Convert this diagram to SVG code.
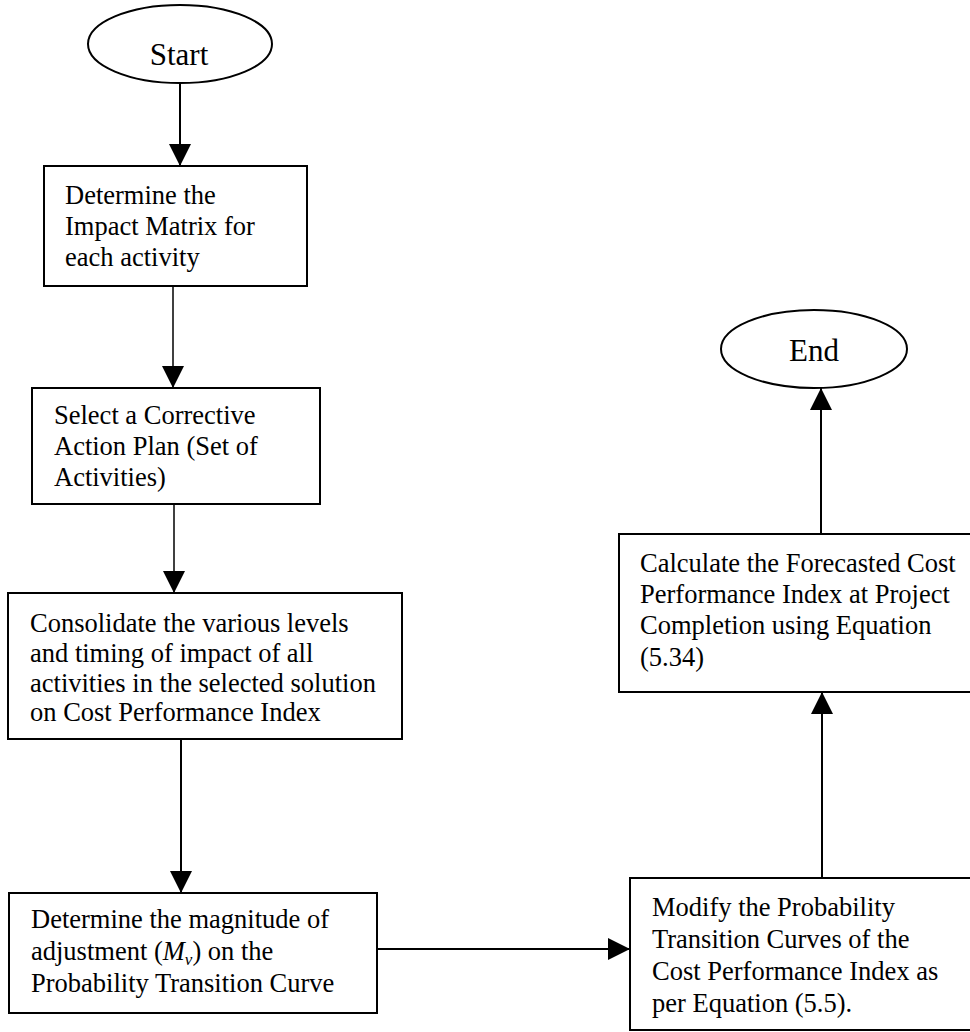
<svg xmlns="http://www.w3.org/2000/svg" width="970" height="1032" viewBox="0 0 970 1032">
  <style>
    .shape { fill: #ffffff; stroke: #000000; stroke-width: 2; }
    .label { font-family: "Liberation Serif", "Times New Roman", serif; font-size: 26.5px; fill: #000000; }
    .terminal { font-size: 31px; text-anchor: middle; }
    .link { fill: none; stroke: #000000; stroke-width: 2; }
    .thin { stroke-width: 1.5; }
  </style>
  <defs>
    <marker id="arrow" markerUnits="userSpaceOnUse" markerWidth="22" markerHeight="22" viewBox="0 0 20 20" refX="20" refY="10" orient="auto">
      <path d="M0,0 L20,10 L0,20 Z" fill="#000000"/>
    </marker>
  </defs>

  <rect width="970" height="1032" fill="#ffffff"/>

  <!-- connectors -->
  <g id="connectors">
    <line class="link" x1="180" y1="83" x2="180" y2="166" marker-end="url(#arrow)"/>
    <line class="link thin" x1="173" y1="286" x2="173" y2="388" marker-end="url(#arrow)"/>
    <line class="link thin" x1="174" y1="504" x2="174" y2="593" marker-end="url(#arrow)"/>
    <line class="link" x1="181" y1="739" x2="181" y2="893" marker-end="url(#arrow)"/>
    <line class="link" x1="377" y1="949" x2="630" y2="949" marker-end="url(#arrow)"/>
    <line class="link" x1="822" y1="878" x2="822" y2="692" marker-end="url(#arrow)"/>
    <line class="link" x1="821" y1="534" x2="821" y2="388" marker-end="url(#arrow)"/>
  </g>

  <!-- Start -->
  <g id="start">
    <ellipse class="shape" cx="180" cy="44" rx="92" ry="39"/>
    <text class="label terminal" x="179" y="65">Start</text>
  </g>

  <!-- Impact matrix -->
  <g id="impact-matrix">
    <rect class="shape" x="44" y="166" width="263" height="120"/>
    <text class="label" x="65" y="204">Determine the</text>
    <text class="label" x="65" y="235">Impact Matrix for</text>
    <text class="label" x="65" y="266">each activity</text>
  </g>

  <!-- Corrective action plan -->
  <g id="action-plan">
    <rect class="shape" x="32" y="388" width="288" height="116"/>
    <text class="label" x="54" y="424">Select a Corrective</text>
    <text class="label" x="54" y="455">Action Plan (Set of</text>
    <text class="label" x="54" y="486">Activities)</text>
  </g>

  <!-- Consolidate impacts -->
  <g id="consolidate">
    <rect class="shape" x="8" y="593" width="394" height="146"/>
    <text class="label" x="30" y="632">Consolidate the various levels</text>
    <text class="label" x="30" y="662">and timing of impact of all</text>
    <text class="label" x="30" y="692">activities in the selected solution</text>
    <text class="label" x="30" y="721">on Cost Performance Index</text>
  </g>

  <!-- Magnitude of adjustment -->
  <g id="magnitude">
    <rect class="shape" x="9" y="893" width="368" height="120"/>
    <text class="label" x="31" y="928">Determine the magnitude of</text>
    <text class="label" x="31" y="960">adjustment (<tspan font-style="italic">M</tspan><tspan font-style="italic" font-size="17" dy="5">v</tspan><tspan dy="-5">) on the</tspan></text>
    <text class="label" x="31" y="992">Probability Transition Curve</text>
  </g>

  <!-- Modify curves -->
  <g id="modify-curves">
    <rect class="shape" x="630" y="878" width="345" height="152"/>
    <text class="label" x="652" y="916">Modify the Probability</text>
    <text class="label" x="652" y="948">Transition Curves of the</text>
    <text class="label" x="652" y="980">Cost Performance Index as</text>
    <text class="label" x="652" y="1012">per Equation (5.5).</text>
  </g>

  <!-- Forecast CPI -->
  <g id="forecast">
    <rect class="shape" x="619" y="534" width="360" height="158"/>
    <text class="label" x="640" y="572">Calculate the Forecasted Cost</text>
    <text class="label" x="640" y="603">Performance Index at Project</text>
    <text class="label" x="640" y="634">Completion using Equation</text>
    <text class="label" x="640" y="666">(5.34)</text>
  </g>

  <!-- End -->
  <g id="end">
    <ellipse class="shape" cx="814" cy="349" rx="93" ry="39"/>
    <text class="label terminal" x="814" y="361">End</text>
  </g>
</svg>
